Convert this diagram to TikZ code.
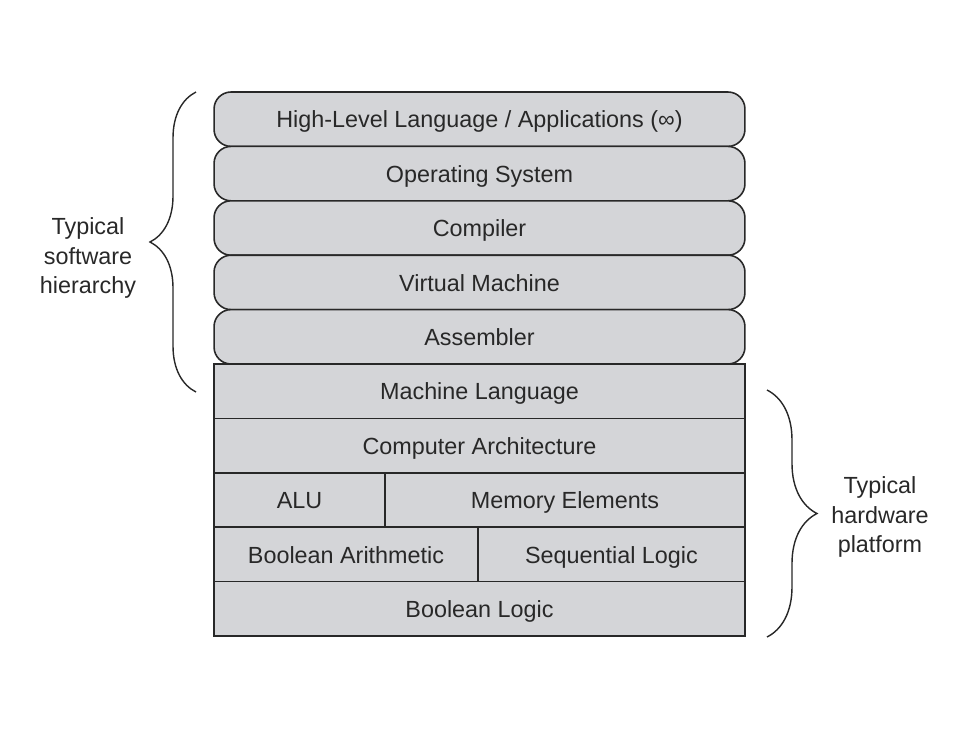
\documentclass[tikz,border=0pt]{standalone}
\usepackage{fontspec}
\setmainfont{Liberation Sans}
\usetikzlibrary{decorations.pathreplacing}
\definecolor{layer_Gray}{RGB}{212,213,216}
\definecolor{ink_Gray}{RGB}{40,40,40}
\tikzstyle{layer_line}=[draw=ink_Gray, line width=0.9pt]

\begin{document}
\begin{tikzpicture}[x=0.02cm, y=-0.02cm]
			\tikzset{layer/.style = {layer_line, fill=layer_Gray, minimum width=10.62cm, minimum height=1.088cm, inner sep=0pt, outer sep=0pt, text height=11pt, text depth=1pt, font=\fontsize{13.3}{17}\selectfont, text=ink_Gray}}
			\tikzset{soft/.style = {layer, rounded corners=0.34cm}}
			\tikzset{curly/.style = {decorate, decoration={brace, amplitude=#1}, draw=ink_Gray, line width=0.8pt}}
			\tikzset{note/.style = {align=center, font=\fontsize{13.3}{17}\selectfont, text=ink_Gray}}

			\useasboundingbox (0,0) rectangle (970,738);

			% software layers
			\node[soft] (hll) at (479.5,119.2) {High-Level Language / Applications (∞)};
			\node[soft] (os)  at (479.5,173.6) {Operating System};
			\node[soft] (cmp) at (479.5,228.0) {Compiler};
			\node[soft] (vm)  at (479.5,282.4) {Virtual Machine};
			\node[soft] (asm) at (479.5,336.8) {Assembler};

			% hardware layers
			\node[layer] (ml)  at (479.5,391.2) {Machine Language};
			\node[layer] (ca)  at (479.5,445.6) {Computer Architecture};
			\node[layer, minimum width=3.42cm] (alu) at (299.5,500.0) {ALU};
			\node[layer, minimum width=7.2cm]  (mem) at (565.0,500.0) {Memory Elements};
			\node[layer, minimum width=5.28cm] (ba)  at (346.0,554.4) {Boolean Arithmetic};
			\node[layer, minimum width=5.34cm] (sl)  at (611.5,554.4) {Sequential Logic};
			\node[layer] (bl)  at (479.5,608.8) {Boolean Logic};

			% braces
			\coordinate (swTop) at (196,92);
			\coordinate (swBot) at (196,392);
			\coordinate (hwTop) at (767,390);
			\coordinate (hwBot) at (767,637);
			\draw[curly=0.92cm] (swBot) -- (swTop);
			\draw[curly=1cm] (hwTop) -- (hwBot);

			\node[note] (sw) at (88,258) {Typical\\software\\hierarchy};
			\node[note] (hw) at (880,517) {Typical\\hardware\\platform};
\end{tikzpicture}
\end{document}
